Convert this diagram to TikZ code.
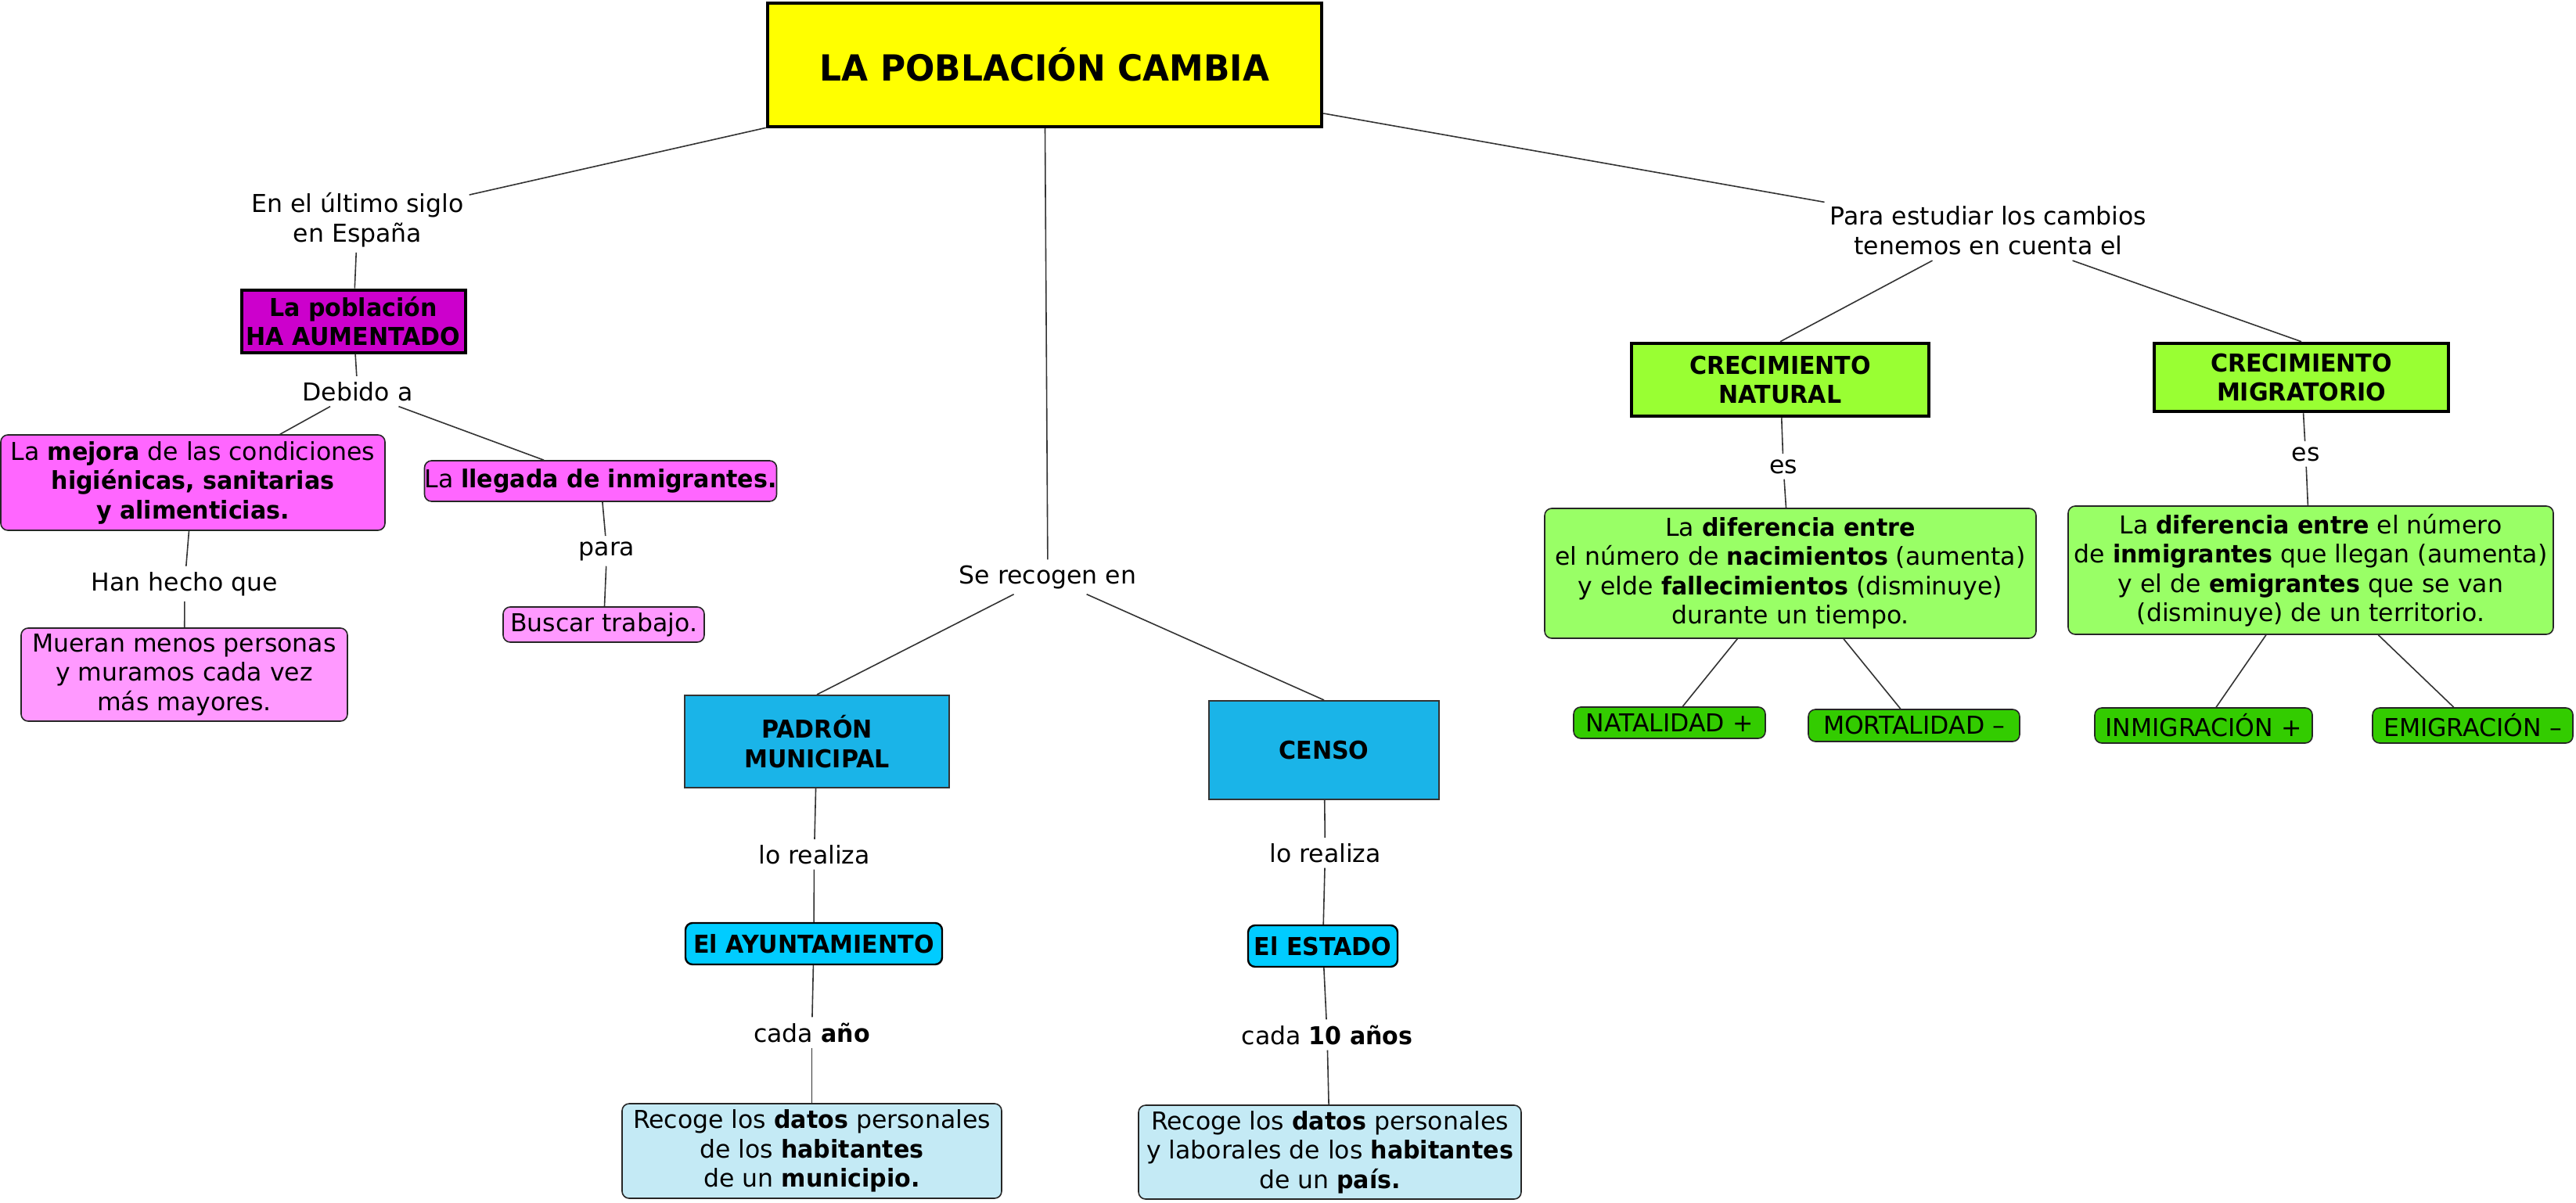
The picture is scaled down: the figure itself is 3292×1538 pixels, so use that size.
\documentclass[tikz,border=0pt]{standalone}
\usepackage{fontspec}
\setmainfont{DejaVu Sans}[BoldFeatures={FakeStretch=0.955}]
\definecolor{ctitle}{HTML}{FFFF00}
\definecolor{cpurple}{HTML}{CC00CC}
\definecolor{cpink}{HTML}{FF66FF}
\definecolor{clpink}{HTML}{FF99FF}
\definecolor{cblue}{HTML}{1AB4E8}
\definecolor{ccyan}{HTML}{00CCFF}
\definecolor{clblue}{HTML}{C4EAF5}
\definecolor{cgreen}{HTML}{99FF33}
\definecolor{clgreen}{HTML}{99FF66}
\definecolor{cdgreen}{HTML}{33CC00}
\definecolor{cline}{HTML}{333333}
\begin{document}
\begin{tikzpicture}[x=1pt,y=-1pt,
  every node/.style={font=\fontsize{31.5}{37.5}\selectfont, align=center, inner sep=0pt},
  lbl/.style={inner sep=7pt},
  bfnode/.style={font=\fontsize{31.5}{37.5}\selectfont\bfseries},
  sqbox/.style={draw=black, line width=4.5pt},
  flatbox/.style={draw=black!80, line width=2pt},
  rbox/.style={draw=black!85, line width=1.6pt, rounded corners=9pt},
  rboxk/.style={draw=black, line width=2.4pt, rounded corners=9pt},
  conn/.style={draw=cline, line width=1.6pt}]
\useasboundingbox (0,0) rectangle (3292,1538);
\fill[white] (0,0) rectangle (3292,1538);

% nodes
\node[sqbox, fill=ctitle, minimum width=708pt, minimum height=158pt, font=\fontsize{46}{52}\selectfont\bfseries] (title) at (1335,83) {LA POBLACIÓN CAMBIA};

\node[lbl] (siglo) at (457,281) {En el último siglo\\en España};
\node[sqbox, line width=4pt, fill=cpurple, minimum width=286pt, minimum height=80pt, bfnode] (pob) at (451.5,410.5) {La población\\HA AUMENTADO};
\node[lbl, anchor=base] (debido) at (457,512) {Debido a};
\node[rbox, fill=cpink, minimum width=491pt, minimum height=122pt] (mejora) at (246.5,617) {La \textbf{mejora} de las condiciones\\\textbf{higiénicas, sanitarias}\\\textbf{y alimenticias.}};
\node[rbox, fill=cpink, minimum width=449pt, minimum height=52pt] (llegada) at (767.5,615) {La \textbf{llegada de inmigrantes.}};
\node[lbl, anchor=base] (hanhecho) at (236,755) {Han hecho que};
\node[rbox, fill=clpink, minimum width=417pt, minimum height=119pt] (mueran) at (235.5,862.5) {Mueran menos personas\\y muramos cada vez\\más mayores.};
\node[lbl, anchor=base] (para) at (775.5,710) {para};
\node[rbox, fill=clpink, minimum width=257pt, minimum height=45pt] (buscar) at (771.5,798.5) {Buscar trabajo.};

\node[lbl, anchor=base] (recogen) at (1339,746) {Se recogen en};
\node[flatbox, fill=cblue, minimum width=338pt, minimum height=118pt, bfnode] (padron) at (1044,948) {PADRÓN\\MUNICIPAL};
\node[flatbox, fill=cblue, minimum width=294pt, minimum height=126pt, bfnode] (censo) at (1692,959) {CENSO};
\node[lbl, anchor=base] (realiza1) at (1040.5,1104) {lo realiza};
\node[rboxk, fill=ccyan, minimum width=328pt, minimum height=53pt, bfnode] (ayunt) at (1040,1206.5) {El AYUNTAMIENTO};
\node[lbl, anchor=base] (cadaano) at (1037.5,1332) {cada \textbf{año}};
\node[rbox, fill=clblue, minimum width=485pt, minimum height=121pt] (recoge1) at (1037.5,1471.5) {Recoge los \textbf{datos} personales\\de los \textbf{habitantes}\\de un \textbf{municipio.}};
\node[lbl, anchor=base] (realiza2) at (1693.5,1102) {lo realiza};
\node[rboxk, fill=ccyan, minimum width=191pt, minimum height=53pt, bfnode] (estado) at (1690.5,1209.5) {El ESTADO};
\node[lbl, anchor=base] (cada10) at (1696,1335) {cada \textbf{10 años}};
\node[rbox, fill=clblue, minimum width=489pt, minimum height=120pt] (recoge2) at (1699.5,1473) {Recoge los \textbf{datos} personales\\y laborales de los \textbf{habitantes}\\de un \textbf{país.}};

\node[lbl] (estudiar) at (2541,295) {Para estudiar los cambios\\tenemos en cuenta el};
\node[sqbox, fill=cgreen, minimum width=380pt, minimum height=93pt, bfnode] (crecnat) at (2275,485.5) {CRECIMIENTO\\NATURAL};
\node[sqbox, fill=cgreen, minimum width=376pt, minimum height=87pt, bfnode] (crecmig) at (2941,482.5) {CRECIMIENTO\\MIGRATORIO};
\node[lbl, anchor=base] (es1) at (2279,605) {es};
\node[lbl, anchor=base] (es2) at (2946.5,589) {es};
\node[rbox, fill=clgreen, minimum width=628pt, minimum height=166pt] (diff1) at (2288,733) {La \textbf{diferencia entre}\\el número de \textbf{nacimientos} (aumenta)\\y elde \textbf{fallecimientos} (disminuye)\\durante un tiempo.};
\node[rbox, fill=clgreen, minimum width=620pt, minimum height=164pt] (diff2) at (2953,729) {La \textbf{diferencia entre} el número\\de \textbf{inmigrantes} que llegan (aumenta)\\y el de \textbf{emigrantes} que se van\\(disminuye) de un territorio.};
\node[rbox, fill=cdgreen, minimum width=245pt, minimum height=40pt] (natal) at (2133.5,924) {NATALIDAD +};
\node[rbox, fill=cdgreen, minimum width=270pt, minimum height=41pt] (mortal) at (2446,927.5) {MORTALIDAD –};
\node[rbox, fill=cdgreen, minimum width=278pt, minimum height=45pt] (inmig) at (2816,927.5) {INMIGRACIÓN +};
\node[rbox, fill=cdgreen, minimum width=256pt, minimum height=45pt] (emig) at (3160,927.5) {EMIGRACIÓN –};

% connectors
\path[conn] (title) -- (siglo);
\path[conn] (siglo) -- (pob);
\path[conn] (pob) -- (debido);
\path[conn] (debido) -- (mejora);
\path[conn] (debido) -- (llegada);
\path[conn] (mejora) -- (hanhecho);
\path[conn] (hanhecho) -- (mueran);
\path[conn] (llegada) -- (para);
\path[conn] (para) -- (buscar);
\path[conn] (title) -- (recogen);
\path[conn] (recogen) -- (padron.north);
\path[conn] (recogen) -- (censo.north);
\path[conn] (padron) -- (realiza1);
\path[conn] (realiza1) -- (ayunt);
\path[conn] (ayunt) -- (cadaano);
\path[conn] (cadaano) -- (recoge1);
\path[conn] (censo) -- (realiza2);
\path[conn] (realiza2) -- (estado);
\path[conn] (estado) -- (cada10);
\path[conn] (cada10) -- (recoge2);
\path[conn] (title) -- (estudiar);
\path[conn] (estudiar) -- (crecnat.north);
\path[conn] (estudiar) -- (crecmig.north);
\path[conn] (crecnat) -- (es1);
\path[conn] (es1) -- (diff1);
\path[conn] (crecmig) -- (es2);
\path[conn] (es2) -- (diff2);
\path[conn] (diff1) -- (natal);
\path[conn] (diff1) -- (mortal);
\path[conn] (diff2) -- (inmig);
\path[conn] (diff2) -- (emig);
\end{tikzpicture}
\end{document}
